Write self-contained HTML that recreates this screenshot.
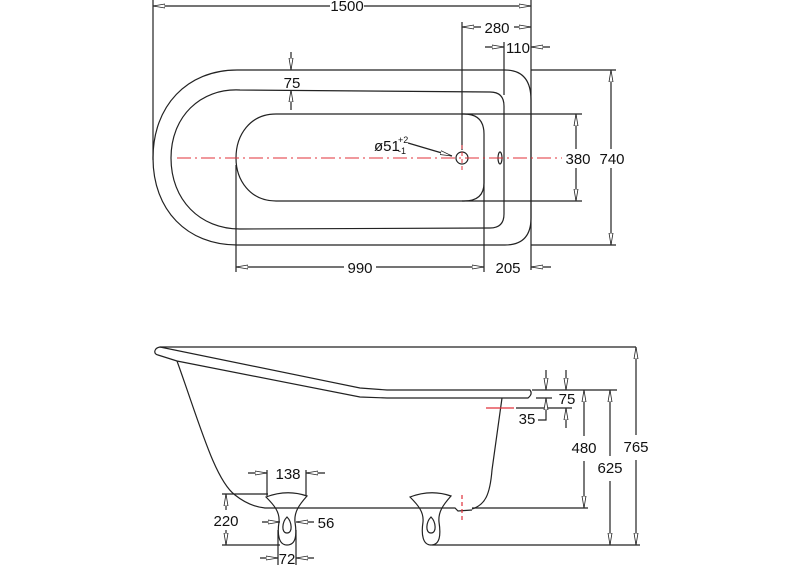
<!DOCTYPE html>
<html><head><meta charset="utf-8"><style>
html,body{margin:0;padding:0;background:#fff}
svg{display:block}
text{font-family:"Liberation Sans",Arial,sans-serif;font-size:15px;fill:#111}
</style></head><body>
<svg width="800" height="565" viewBox="0 0 800 565" xmlns="http://www.w3.org/2000/svg">
<defs>
<marker id="a" viewBox="0 0 12 6" refX="12" refY="3" markerWidth="12" markerHeight="6" markerUnits="userSpaceOnUse" orient="auto">
<path d="M0,1 L12,3 L0,5 Z" fill="#fff" stroke="#222" stroke-width="0.8"/>
</marker>
</defs>
<g fill="none" stroke="#222" stroke-width="1.2">
<!-- TOP VIEW -->
<path d="M237,70 L505,70 Q531,70 531,100 L531,218 Q531,245 505,245 L237,245 C187,245 153,210 153,158 C153,106 187,70 237,70 Z"/>
<path d="M240,90 L490,92 Q504,92 504,106 L504,214 Q504,228 490,228 L240,229 C200,229 171,200 171,158 C171,117 200,88 240,90 Z"/>
<path d="M276,114 L464,114 Q484,114 484,134 L484,183 Q484,201 464,201 L276,201 C250,201 236,180 236,158 C236,135 250,114 276,114 Z"/>
<circle cx="462" cy="158" r="6"/>
<ellipse cx="500" cy="158" rx="2" ry="6"/>
<path d="M408,143 L452,156" marker-end="url(#a)"/>
<!-- dims top -->
<path d="M153,0 V160 M531,0 V270 M462,22 V150 M504,42 V95 M236,165 V272 M484,160 V272"/>
<path d="M330,6 H153" marker-end="url(#a)"/><path d="M364,6 H531" marker-end="url(#a)"/>
<path d="M481,27 H462" marker-end="url(#a)"/><path d="M514,27 H531" marker-end="url(#a)"/>
<path d="M485,47 H504" marker-end="url(#a)"/><path d="M550,47 H531" marker-end="url(#a)"/>
<path d="M291,52 V70" marker-end="url(#a)"/><path d="M291,110 V90" marker-end="url(#a)"/>
<path d="M462,114 H582 M462,201 H582 M531,70 H616 M531,245 H616"/>
<path d="M576,149 V114" marker-end="url(#a)"/><path d="M576,168 V201" marker-end="url(#a)"/>
<path d="M611,149 V70" marker-end="url(#a)"/><path d="M611,168 V245" marker-end="url(#a)"/>
<path d="M344,267 H236" marker-end="url(#a)"/><path d="M376,267 H484" marker-end="url(#a)"/>
<path d="M551,267 H531" marker-end="url(#a)"/>
</g>
<path d="M177,158 H562" stroke="#e0303a" stroke-width="1" stroke-dasharray="14,4,2,4" fill="none"/>
<path d="M462,145 V172" stroke="#e0303a" stroke-width="1" stroke-dasharray="4,3" fill="none"/>
<rect x="566" y="150" width="60" height="17" fill="#fff"/>
<g text-anchor="middle">
<text x="347" y="11">1500</text>
<text x="497" y="33">280</text>
<text x="518" y="53">110</text>
<text x="292" y="88">75</text>
<text x="578" y="164">380</text>
<text x="612" y="164">740</text>
<text x="360" y="273">990</text>
<text x="508" y="273">205</text>
</g>
<text x="374" y="151">ø51</text><text x="398" y="143" style="font-size:9px">+2</text><text x="398" y="154" style="font-size:9px">-1</text>

<!-- SIDE VIEW -->
<g fill="none" stroke="#222" stroke-width="1.2">
<path d="M160,347 C154,348 153,354 158,355 L177,361 L360,397 L387,398 L528,398 Q533,394 530,390 L387,390 L360,388 Z"/>
<path d="M160,347 L636,347"/>
<path d="M177,361 C200,425 215,480 235,495 C245,503 255,507 265,508 L455,508 L458,511 L472,510"/>
<path d="M472,509 C485,505 490,495 492,470 L502,398"/>
<path d="M266,497 Q287,489 307,496 C299,505 294,512 295,522 C297,535 296,545 287,545 C279,545 277,535 279,522 C280,512 274,505 266,497 Z"/>
<path d="M287,517 C292,522 293,533 287,533 C281,533 282,522 287,517 Z"/>
<path d="M410,497 Q431,489 451,496 C443,505 438,512 439,522 C441,535 440,545 431,545 C423,545 421,535 423,522 C424,512 418,505 410,497 Z"/>
<path d="M431,517 C436,522 437,533 431,533 C425,533 426,522 431,517 Z"/>
<!-- dims side -->
<path d="M532,390 H617 M472,508 H588 M432,545 H640 M536,398 H552 M516,408 H572"/>
<path d="M636,435 V347" marker-end="url(#a)"/><path d="M636,460 V545" marker-end="url(#a)"/>
<path d="M610,456 V390" marker-end="url(#a)"/><path d="M610,481 V545" marker-end="url(#a)"/>
<path d="M584,436 V390" marker-end="url(#a)"/><path d="M584,461 V508" marker-end="url(#a)"/>
<path d="M546,370 V390" marker-end="url(#a)"/><path d="M566,370 V390" marker-end="url(#a)"/>
<path d="M546,418 V398" marker-end="url(#a)"/><path d="M566,428 V408" marker-end="url(#a)"/>
<path d="M546,418 V420 H538"/>
<path d="M267,470 V496 M306,470 V496"/>
<path d="M248,473 H267" marker-end="url(#a)"/><path d="M325,473 H306" marker-end="url(#a)"/>
<path d="M222,494 H268 M222,545 H280"/>
<path d="M226,510 V494" marker-end="url(#a)"/><path d="M226,530 V545" marker-end="url(#a)"/>
<path d="M262,522 H280" marker-end="url(#a)"/><path d="M314,522 H296" marker-end="url(#a)"/>
<path d="M278,530 V565 M296,530 V565"/>
<path d="M260,558 H278" marker-end="url(#a)"/><path d="M314,558 H296" marker-end="url(#a)"/>
</g>
<path d="M486,408 H514" stroke="#e0303a" stroke-width="1.2"/>
<path d="M462,495 V522" stroke="#e0303a" stroke-width="1.2" stroke-dasharray="4,3"/>
<g text-anchor="middle">
<text x="636" y="452">765</text>
<text x="610" y="473">625</text>
<text x="584" y="453">480</text>
<text x="567" y="404">75</text>
<text x="527" y="424">35</text>
<text x="288" y="479">138</text>
<text x="226" y="526">220</text>
<text x="326" y="528">56</text>
<text x="287" y="564">72</text>
</g>
</svg>
</body></html>
